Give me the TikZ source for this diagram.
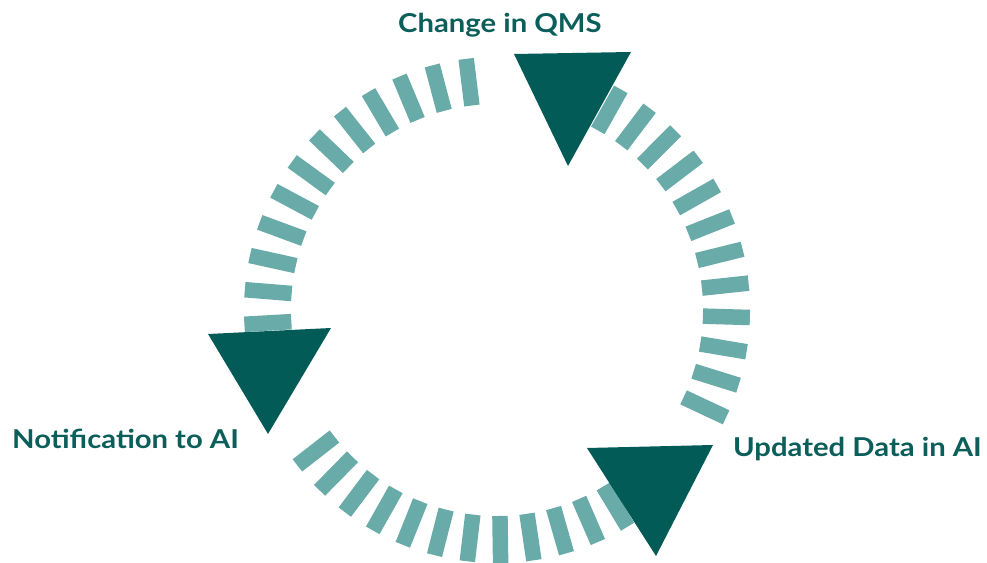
\documentclass[tikz,border=0pt]{standalone}
\usepackage{fontspec}
\setmainfont{Lato}
\definecolor{dark}{HTML}{035B57}
\definecolor{light}{HTML}{68ABA8}
\definecolor{txt}{HTML}{0B5E59}
\newcommand{\widetxt}[1]{\scalebox{1.125}[1]{#1}}
\begin{document}
\begin{tikzpicture}[x=1pt,y=1pt,
  dashbar/.style={light, line width=15.5pt},
  head/.style={fill=dark, draw=none},
  lbl/.style={text=txt, font=\fontsize{26}{30}\selectfont\bfseries, inner sep=0pt, anchor=base west}]
\useasboundingbox (0,0) rectangle (987,562);
\coordinate (c) at (497,252);
% top-left arc
\foreach \i in {0,...,11}{
  \pgfmathsetmacro\ang{97+7.84*\i}
  \draw[dashbar, shift={(497,252)}] (\ang:206) -- (\ang:253);
}
% right arc
\foreach \i in {0,...,11}{
  \pgfmathsetmacro\ang{-25.1+7.8*\i}
  \draw[dashbar, shift={(497,252)}] (\ang:206) -- (\ang:253);
}
% bottom arc
\foreach \i in {0,...,11}{
  \pgfmathsetmacro\ang{217.9+7.56*\i}
  \draw[dashbar, shift={(497,252)}] (\ang:206) -- (\ang:253);
}
% arrow heads
\path[head] (514,508) -- (631,510) -- (568,396) -- cycle;
\path[head] (208,228) -- (331,234) -- (268,128) -- cycle;
\path[head] (587,114) -- (713,117) -- (656,6) -- cycle;
% labels
\node[lbl] (qms) at (398,529) {\widetxt{Change in QMS}};
\node[lbl] (notif) at (12,113) {\widetxt{Notification to AI}};
\node[lbl] (upd) at (733,105) {\widetxt{Updated Data in AI}};
\end{tikzpicture}
\end{document}
